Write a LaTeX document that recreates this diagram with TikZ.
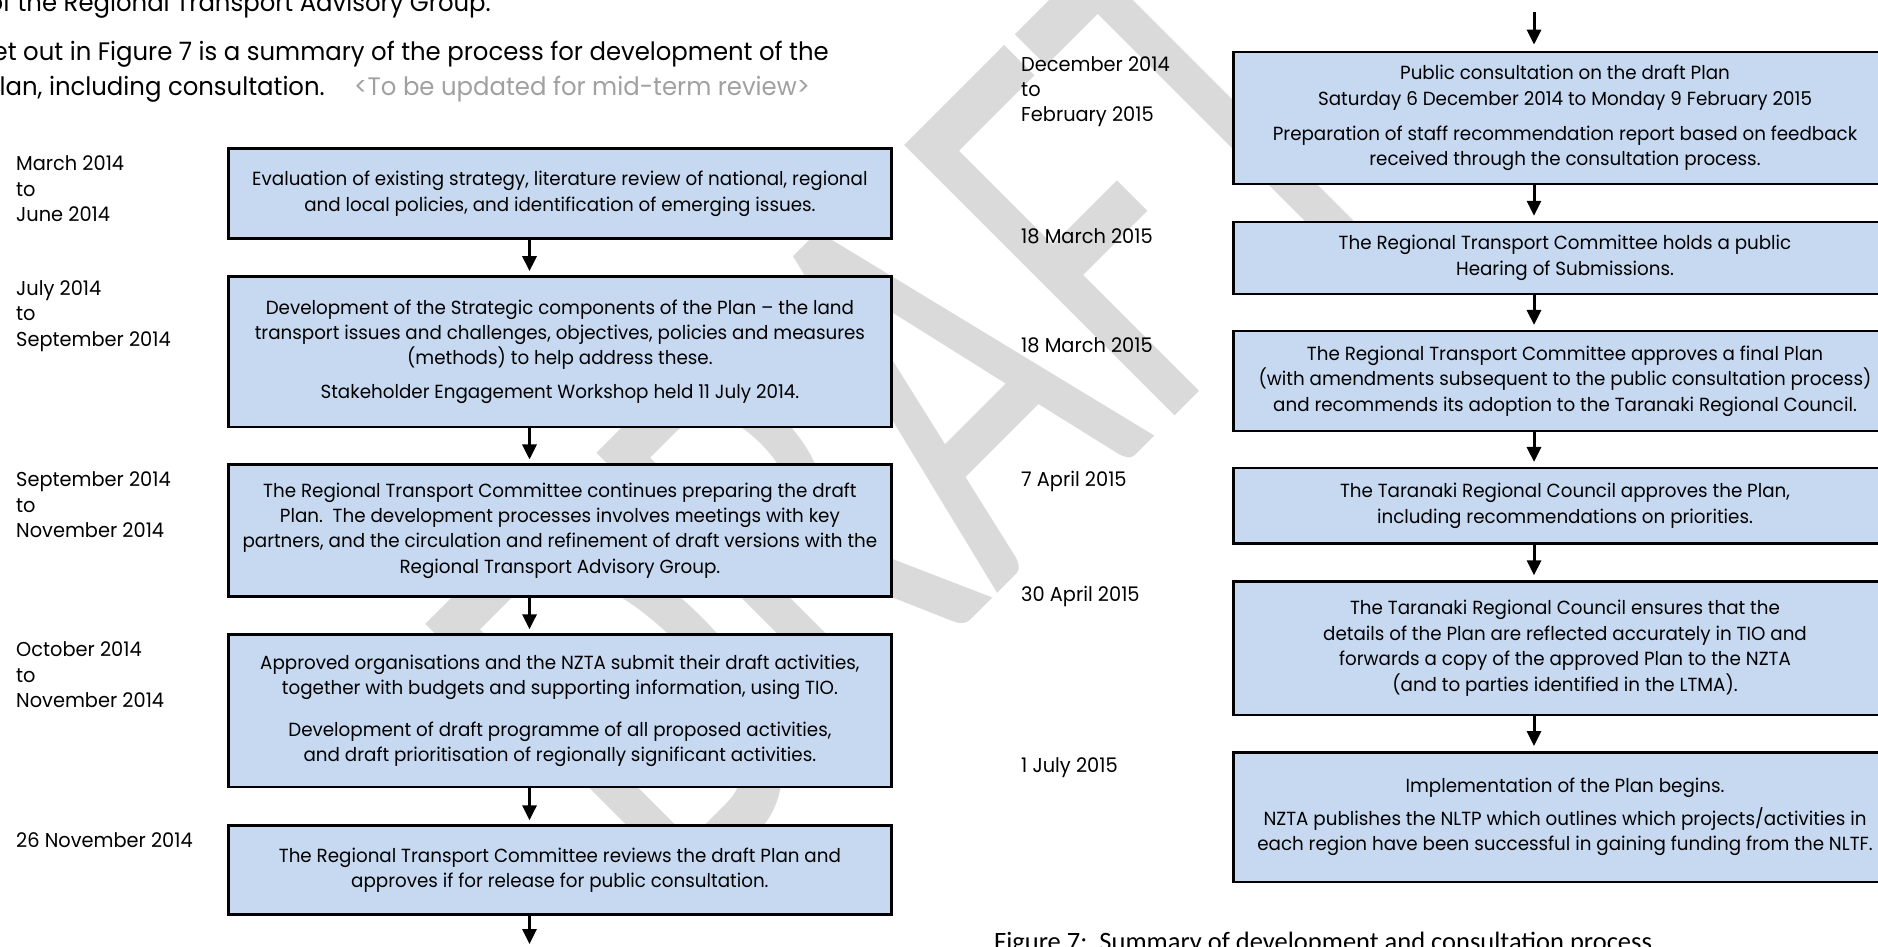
\documentclass[tikz,border=0pt]{standalone}
\usepackage{fontspec}
\usepackage{graphicx}
\setmainfont{Poppins}[FakeStretch=0.963]
\newfontfamily\capfont{Carlito}
\usetikzlibrary{arrows.meta}
\definecolor{boxblue}{RGB}{198,217,241}
\definecolor{wmgray}{RGB}{218,218,218}
\definecolor{notegray}{RGB}{160,160,160}
\newcommand\boxfont{\fontsize{19}{25.4}\selectfont}
\newcommand\datefont{\fontsize{20.1}{25.4}\selectfont}
\newcommand\topfont{\fontsize{25.3}{35}\selectfont}
\tikzset{
  stepbox/.style={draw=black, line width=2.5pt, fill=boxblue, minimum width=663pt, align=center, inner sep=0pt, font=\boxfont},
  datetext/.style={anchor=west, align=left, font=\datefont, inner sep=0pt},
  arr/.style={line width=3pt, -{Triangle[length=15pt,width=14pt]}},
  toptext/.style={inner sep=0pt, font=\topfont}
}
\begin{document}
\begin{tikzpicture}[x=1pt,y=-1pt]
\useasboundingbox (0,0) rectangle (1878,946);
\clip (0,0) rectangle (1878,946);
% watermark
\node[rotate=45, anchor=south west, inner sep=0pt, text=wmgray] (wm) at (677.7,913.3) {\resizebox{1042pt}{382pt}{\capfont DRAFT}};
% top text
\node[toptext, anchor=base east] (t1) at (491,11) {of the Regional Transport Advisory Group.};
\node[toptext, anchor=base east] (t2) at (829,60) {Set out in Figure 7 is a summary of the process for development of the};
\node[toptext, anchor=base east] (t3a) at (325,95) {Plan, including consultation.};
\node[toptext, anchor=base west, text=notegray] (t3b) at (354,95) {<To be updated for mid-term review>};
% left column boxes
\node[stepbox, minimum height=90.1pt] (b1) at (559.9,193.65) {Evaluation of existing strategy, literature review of national, regional\\ and local policies, and identification of emerging issues.};
\node[stepbox, minimum height=150.6pt] (b2) at (559.9,351.7) {Development of the Strategic components of the Plan – the land\\ transport issues and challenges, objectives, policies and measures\\ (methods) to help address these.\\[8.6pt] Stakeholder Engagement Workshop held 11 July 2014.};
\node[stepbox, minimum height=131.6pt] (b3) at (559.9,530.5) {The Regional Transport Committee continues preparing the draft\\ Plan.\ \ The development processes involves meetings with key\\ partners, and the circulation and refinement of draft versions with the\\ Regional Transport Advisory Group.};
\node[stepbox, minimum height=152.2pt] (b4) at (559.9,710.7) {Approved organisations and the NZTA submit their draft activities,\\ together with budgets and supporting information, using TIO.\\[16pt] Development of draft programme of all proposed activities,\\ and draft prioritisation of regionally significant activities.};
\node[stepbox, minimum height=89pt] (b5) at (559.9,870.1) {The Regional Transport Committee reviews the draft Plan and\\ approves if for release for public consultation.};
% right column boxes
\node[stepbox, minimum height=132.1pt] (r1) at (1565,117.95) {Public consultation on the draft Plan\\ Saturday 6 December 2014 to Monday 9 February 2015\\[9.7pt] Preparation of staff recommendation report based on feedback\\ received through the consultation process.};
\node[stepbox, minimum height=71.8pt] (r2) at (1565,257.9) {The Regional Transport Committee holds a public\\ Hearing of Submissions.};
\node[stepbox, minimum height=99.6pt] (r3) at (1565,381) {The Regional Transport Committee approves a final Plan\\ (with amendments subsequent to the public consultation process)\\ and recommends its adoption to the Taranaki Regional Council.};
\node[stepbox, minimum height=75.4pt] (r4) at (1565,505.9) {The Taranaki Regional Council approves the Plan,\\ including recommendations on priorities.};
\node[stepbox, minimum height=133.3pt] (r5) at (1565,648.25) {The Taranaki Regional Council ensures that the\\ details of the Plan are reflected accurately in TIO and\\ forwards a copy of the approved Plan to the NZTA\\ (and to parties identified in the LTMA).};
\node[stepbox, minimum height=129.7pt, text depth=6pt] (r6) at (1565,817.15) {Implementation of the Plan begins.\\[8pt] NZTA publishes the NLTP which outlines which projects/activities in\\ each region have been successful in gaining funding from the NLTF.};
% dates
\node[datetext] (d1) at (16,189) {March 2014\\ to\\ June 2014};
\node[datetext] (d2) at (16,316) {July 2014\\ to\\ September 2014};
\node[datetext] (d3) at (16,505) {September 2014\\ to\\ November 2014};
\node[datetext] (d4) at (16,675) {October 2014\\ to\\ November 2014};
\node[datetext] (d5) at (16,840) {26 November 2014};
\node[datetext] (d6) at (1021,91.7) {December 2014\\ to\\ February 2015};
\node[datetext] (d7) at (1021,236.5) {18 March 2015};
\node[datetext] (d8) at (1021,345.7) {18 March 2015};
\node[datetext] (d9) at (1021,481.4) {7 April 2015};
\node[datetext] (d10) at (1021,596) {30 April 2015};
\node[datetext] (d11) at (1021,767.4) {1 July 2015};
% arrows
\coordinate (aL) at (529.5,0);
\coordinate (aR) at (1534,0);
\coordinate (endL) at (529.5,944);
\coordinate (startR) at (1534,12);
\draw[arr] (b1.south -| aL) -- ([yshift=4pt]b2.north -| aL);
\draw[arr] (b2.south -| aL) -- ([yshift=4pt]b3.north -| aL);
\draw[arr] (b3.south -| aL) -- ([yshift=4pt]b4.north -| aL);
\draw[arr] (b4.south -| aL) -- ([yshift=4pt]b5.north -| aL);
\draw[arr] (b5.south -| aL) -- (endL);
\draw[arr] (startR) -- ([yshift=6pt]r1.north -| aR);
\draw[arr] (r1.south -| aR) -- ([yshift=5pt]r2.north -| aR);
\draw[arr] (r2.south -| aR) -- ([yshift=5pt]r3.north -| aR);
\draw[arr] (r3.south -| aR) -- ([yshift=5pt]r4.north -| aR);
\draw[arr] (r4.south -| aR) -- ([yshift=5pt]r5.north -| aR);
\draw[arr] (r5.south -| aR) -- ([yshift=5pt]r6.north -| aR);
% caption
\node[inner sep=0pt, anchor=base west, font=\capfont\fontsize{26.5}{30}\selectfont] (cap) at (994,950) {Figure 7:\ \ Summary of development and consultation process};
\end{tikzpicture}
\end{document}
